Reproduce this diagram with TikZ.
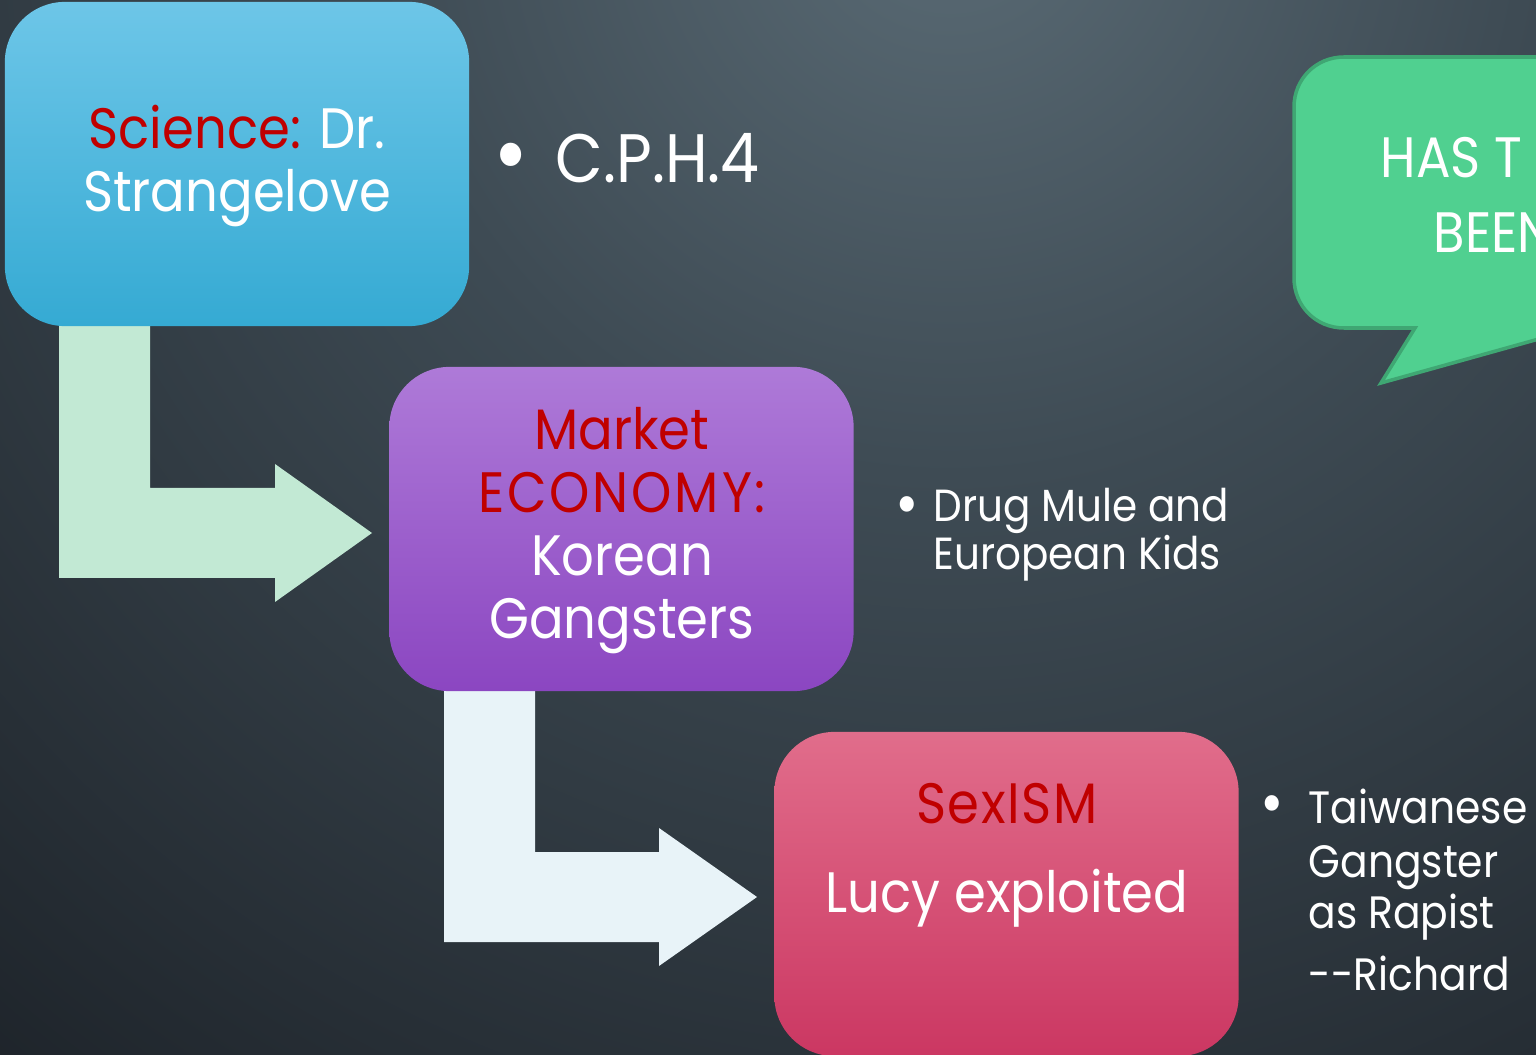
\documentclass[tikz,border=0pt]{standalone}
\usepackage{fontspec}
\setmainfont[FakeStretch=0.9]{Poppins}
\usetikzlibrary{calc}
\definecolor{bgA}{HTML}{5A6B75}
\definecolor{bgB}{HTML}{3E4B54}
\definecolor{bgC}{HTML}{1A1F25}
\definecolor{hlred}{HTML}{C00000}
\definecolor{blueT}{HTML}{6DC6E8}
\definecolor{blueB}{HTML}{35AAD3}
\definecolor{purT}{HTML}{AE7AD8}
\definecolor{purB}{HTML}{8B46C1}
\definecolor{pinkT}{HTML}{E16D8B}
\definecolor{pinkB}{HTML}{CB3762}
\definecolor{arrGreen}{HTML}{C2E9D4}
\definecolor{arrBlue}{HTML}{E8F3F8}
\definecolor{bubFill}{HTML}{50D090}
\definecolor{bubLine}{HTML}{3FA773}
\pgfdeclareradialshading{bgshade}{\pgfpoint{0bp}{0bp}}{color(0bp)=(bgA); color(6bp)=(bgB); color(17bp)=(bgC); color(50bp)=(bgC)}
\tikzset{
  box/.style={rounded corners=0.6cm, minimum width=4.64cm, minimum height=3.24cm, inner sep=0pt},
  boxtxt/.style={anchor=base, text=white, inner sep=0pt, font=\fontsize{16.2pt}{19pt}\selectfont},
  bigtxt/.style={anchor=base west, text=white, inner sep=0pt, font=\fontsize{19.5pt}{23pt}\selectfont},
  smalltxt/.style={anchor=base west, text=white, inner sep=0pt, font=\fontsize{12.8pt}{15pt}\selectfont},
  midtxt/.style={anchor=base west, text=white, inner sep=0pt, font=\fontsize{12.9pt}{16pt}\selectfont},
  bigbul/.style={anchor=base west, text=white, inner sep=0pt, font=\fontsize{27pt}{30pt}\selectfont},
  smallbul/.style={anchor=base west, text=white, inner sep=0pt, font=\fontsize{18pt}{20pt}\selectfont},
  bubtxt/.style={anchor=base west, text=white, inner sep=0pt, font=\fontsize{16.2pt}{19pt}\selectfont},
  blockarrow/.style={draw=none}
}
\begin{document}
\begin{tikzpicture}[x=0.01cm,y=-0.01cm]
\useasboundingbox (0,0) rectangle (1536,1055);
\begin{scope}
\clip (0,0) rectangle (1536,1055);
% background
\shade[shading=bgshade] (950,-100) circle (24cm);

% block arrows
\fill[arrGreen, blockarrow] (59,326) -- (150,326) -- (150,488) -- (275,488) -- (275,464) -- (372,533) -- (275,602) -- (275,578) -- (59,578) -- cycle;
\fill[arrBlue, blockarrow] (444,691) -- (535,691) -- (535,852) -- (659,852) -- (659,828) -- (757,897) -- (659,966) -- (659,942) -- (444,942) -- cycle;

% boxes
\node[box, top color=blueT, bottom color=blueB] (sci) at (237,164) {};
\node[box, top color=purT, bottom color=purB] (mkt) at (621.5,529) {};
\node[box, top color=pinkT, bottom color=pinkB] (sex) at (1006.5,894) {};

% box texts
\node[boxtxt] (sci1) at (237,149) {\textcolor{hlred}{Science:} Dr.};
\node[boxtxt] (sci2) at (237,212) {Strangelove};
\node[boxtxt, text=hlred] (mkt1) at (622,450) {Market};
\node[boxtxt, text=hlred] (mkt2) at (622,513) {\addfontfeature{LetterSpace=5}ECONOMY:};
\node[boxtxt] (mkt3) at (622,576) {Korean};
\node[boxtxt] (mkt4) at (622,638) {Gangsters};
\node[boxtxt, text=hlred] (sex1) at (1007,823) {\addfontfeature{LetterSpace=3}SexISM};
\node[boxtxt] (sex2) at (1007,912) {Lucy exploited};

% bullet texts
\node[bigbul] (b1) at (493,187) {•};
\node[bigtxt] (cph) at (555,183) {C.P.H.4};
\node[smallbul] (b2) at (895,526) {•};
\node[smalltxt] (drug1) at (933,522) {Drug Mule and};
\node[smalltxt] (drug2) at (933,570) {European Kids};
\node[smallbul] (b3) at (1260,824) {•};
\node[midtxt] (tw1) at (1308,823) {Taiwanese};
\node[midtxt] (tw2) at (1308,877) {Gangster};
\node[midtxt] (tw3) at (1308,928) {as Rapist};
\node[midtxt] (tw4) at (1308,990) {-{}-Richard};

% speech bubble
\path[fill=bubFill, draw=bubLine, line width=1pt]
  (1650,57) -- (1344,57) .. controls (1316,57) and (1294,79) .. (1294,107)
  -- (1294,278) .. controls (1294,306) and (1316,328) .. (1344,328)
  -- (1415,328) -- (1381,383) -- (1650,308) -- cycle;
\node[bubtxt] (has) at (1380,178) {HAS T};
\node[bubtxt] (been) at (1433,253) {BEEN};
\end{scope}
\end{tikzpicture}
\end{document}
